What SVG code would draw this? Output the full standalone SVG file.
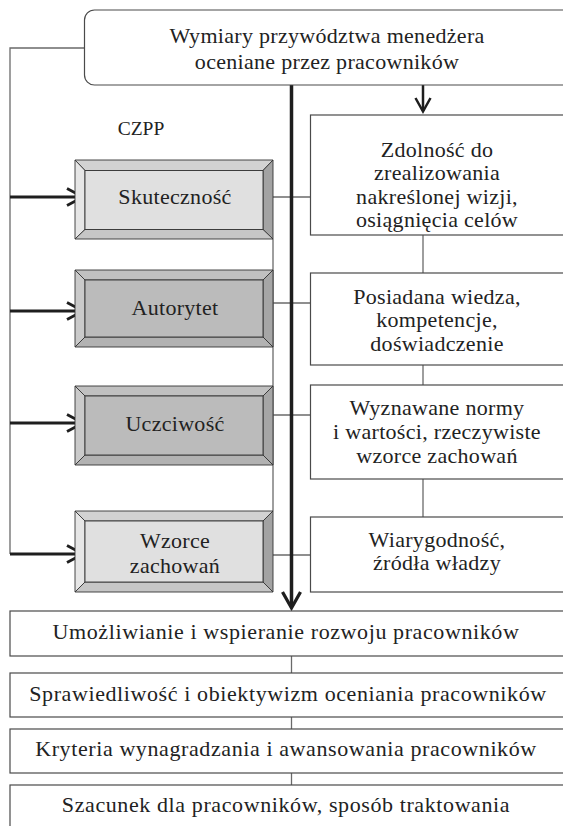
<svg xmlns="http://www.w3.org/2000/svg" width="563" height="826" viewBox="0 0 563 826">
<style>
text{font-family:"Liberation Serif","Times New Roman",serif;font-size:22px;fill:#222;letter-spacing:0.3px;text-anchor:middle}
.wide{letter-spacing:0.6px}
.box{fill:#fff;stroke:#4a4a4a;stroke-width:1.2}
.thin{fill:none;stroke:#6a6a6a;stroke-width:1.3}
.thick{fill:none;stroke:#1e1e1e;stroke-width:3.5}
.arr{fill:none;stroke:#1e1e1e;stroke-width:2.8;stroke-linejoin:miter}
.bv{stroke:#333;stroke-width:0.9}
.lt .t{fill:#d2d2d2}.lt .l{fill:#e6e6e6}.lt .r{fill:#a3a3a3}.lt .b{fill:#c6c6c6}.lt .i{fill:#e0e0e0}
.dk .t{fill:#c0c0c0}.dk .l{fill:#cacaca}.dk .r{fill:#a6a6a6}.dk .b{fill:#b2b2b2}.dk .i{fill:#bbbbbb}
</style>
<g id="connectors">
<polyline class="thin" points="84,48 10,48 10,554"/>
<line class="thin" x1="273" y1="239" x2="273" y2="511"/>
<line class="thin" x1="273" y1="197" x2="310" y2="197"/>
<line class="thin" x1="273" y1="303" x2="310" y2="303"/>
<line class="thin" x1="273" y1="415" x2="310" y2="415"/>
<line class="thin" x1="273" y1="555" x2="310" y2="555"/>
<line class="thin" x1="423" y1="235" x2="423" y2="273"/>
<line class="thin" x1="423" y1="365" x2="423" y2="385"/>
<line class="thin" x1="423" y1="479" x2="423" y2="517"/>
<line class="thin" x1="291.5" y1="656" x2="291.5" y2="673"/>
<line class="thin" x1="291.5" y1="717" x2="291.5" y2="729"/>
<line class="thin" x1="291.5" y1="773" x2="291.5" y2="785"/>
<line class="thick" x1="291.5" y1="85" x2="291.5" y2="607"/>
<polyline class="arr" style="stroke-width:3.3" points="282.5,592 291.5,608 300.5,592"/>
<line class="arr" style="stroke-width:2.5" x1="423" y1="85" x2="423" y2="111"/>
<polyline class="arr" style="stroke-width:2.5" points="415.5,98 423,111.5 430.5,98"/>
<line class="arr" x1="10" y1="197" x2="83" y2="197"/>
<polyline class="arr" points="67,188.5 83,197 67,205.5"/>
<line class="arr" x1="10" y1="311" x2="83" y2="311"/>
<polyline class="arr" points="67,302.5 83,311 67,319.5"/>
<line class="arr" x1="10" y1="423" x2="83" y2="423"/>
<polyline class="arr" points="67,414.5 83,423 67,431.5"/>
<line class="arr" x1="10" y1="554" x2="83" y2="554"/>
<polyline class="arr" points="67,545.5 83,554 67,562.5"/>
</g>
<g id="top">
<rect class="box" x="84.5" y="10" width="500" height="75" rx="10"/>
<text x="327" y="43">Wymiary przywództwa menedżera</text>
<text x="327" y="69">oceniane przez pracowników</text>
</g>
<text x="141" y="135" style="font-size:19.5px;letter-spacing:0">CZPP</text>
<g id="skutecznosc" class="lt">
<polygon class="bv t" points="75,160 273,160 263,170.5 85,170.5"/>
<polygon class="bv l" points="75,160 85,170.5 85,229.5 75,239"/>
<polygon class="bv r" points="273,160 273,239 263,229.5 263,170.5"/>
<polygon class="bv b" points="75,239 85,229.5 263,229.5 273,239"/>
<rect class="bv i" x="85" y="170.5" width="178" height="59"/>
<text x="175" y="204">Skuteczność</text>
</g>
<g id="autorytet" class="dk">
<polygon class="bv t" points="75,270 273,270 263,280 85,280"/>
<polygon class="bv l" points="75,270 85,280 85,337 75,347"/>
<polygon class="bv r" points="273,270 273,347 263,337 263,280"/>
<polygon class="bv b" points="75,347 85,337 263,337 273,347"/>
<rect class="bv i" x="85" y="280" width="178" height="57"/>
<text x="175" y="315">Autorytet</text>
</g>
<g id="uczciwosc" class="dk">
<polygon class="bv t" points="75,386 273,386 263,396 85,396"/>
<polygon class="bv l" points="75,386 85,396 85,455 75,465"/>
<polygon class="bv r" points="273,386 273,465 263,455 263,396"/>
<polygon class="bv b" points="75,465 85,455 263,455 273,465"/>
<rect class="bv i" x="85" y="396" width="178" height="59"/>
<text x="175" y="430.5">Uczciwość</text>
</g>
<g id="wzorce" class="lt">
<polygon class="bv t" points="75,511 273,511 263,521 85,521"/>
<polygon class="bv l" points="75,511 85,521 85,582 75,592"/>
<polygon class="bv r" points="273,511 273,592 263,582 263,521"/>
<polygon class="bv b" points="75,592 85,582 263,582 273,592"/>
<rect class="bv i" x="85" y="521" width="178" height="61"/>
<text x="175" y="548">Wzorce</text>
<text x="175" y="573">zachowań</text>
</g>
<g id="zdolnosc">
<rect class="box" x="310.5" y="115" width="260" height="120"/>
<text x="437" y="156.5">Zdolność do</text>
<text x="437" y="180">zrealizowania</text>
<text x="437" y="203.5">nakreślonej wizji,</text>
<text x="437" y="227">osiągnięcia celów</text>
</g>
<g id="wiedza">
<rect class="box" x="310.5" y="273" width="260" height="92"/>
<text x="437" y="303.5">Posiadana wiedza,</text>
<text x="437" y="327">kompetencje,</text>
<text x="437" y="350.5">doświadczenie</text>
</g>
<g id="normy">
<rect class="box" x="310.5" y="385" width="260" height="94"/>
<text x="437" y="415">Wyznawane normy</text>
<text x="437" y="439">i wartości, rzeczywiste</text>
<text x="437" y="463">wzorce zachowań</text>
</g>
<g id="wiarygodnosc">
<rect class="box" x="310.5" y="517" width="260" height="75"/>
<text x="437" y="546.5">Wiarygodność,</text>
<text x="437" y="570">źródła władzy</text>
</g>
<g id="rozwoj">
<rect class="box" x="10" y="611" width="560" height="45"/>
<text class="wide" x="286" y="639">Umożliwianie i wspieranie rozwoju pracowników</text>
</g>
<g id="sprawiedliwosc">
<rect class="box" x="10" y="673" width="560" height="44"/>
<text class="wide" x="288" y="700.5">Sprawiedliwość i obiektywizm oceniania pracowników</text>
</g>
<g id="kryteria">
<rect class="box" x="10" y="729" width="560" height="44"/>
<text class="wide" x="286" y="756">Kryteria wynagradzania i awansowania pracowników</text>
</g>
<g id="szacunek">
<rect class="box" x="10" y="785" width="560" height="50"/>
<text class="wide" x="286" y="811.5">Szacunek dla pracowników, sposób traktowania</text>
</g>
</svg>
